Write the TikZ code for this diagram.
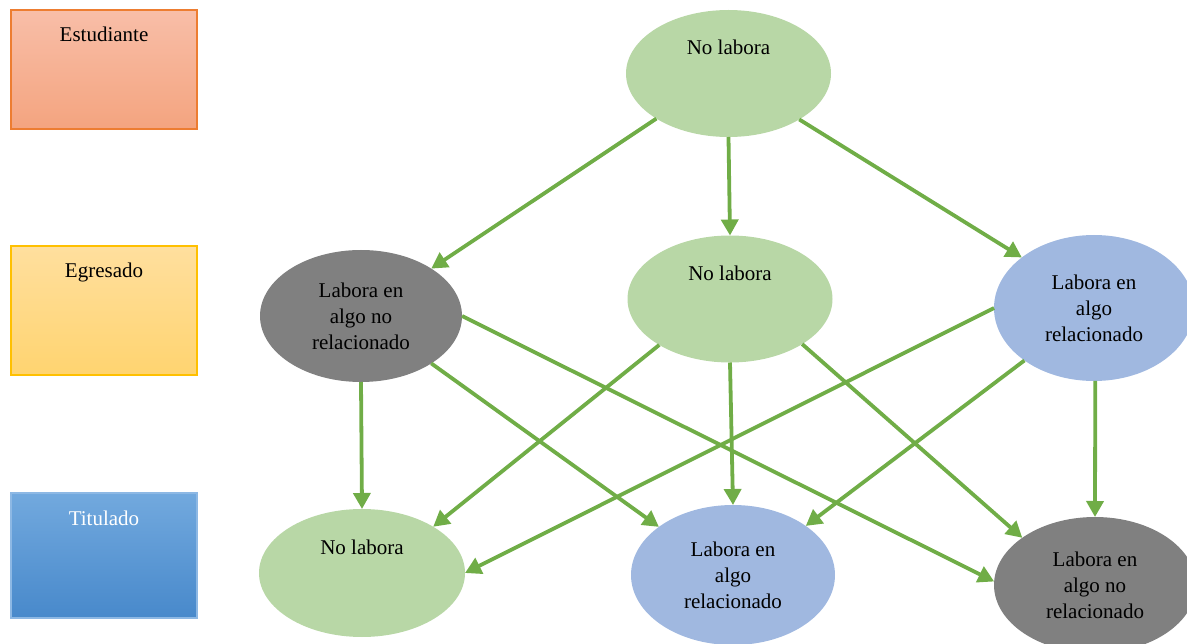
\documentclass[tikz,border=0pt]{standalone}
\usepackage{fontspec}
\setmainfont{Liberation Serif}
\usetikzlibrary{arrows.meta,shapes.geometric}
\definecolor{estTop}{HTML}{F8BEA8}
\definecolor{estBot}{HTML}{F4A47F}
\definecolor{estLine}{HTML}{ED7D31}
\definecolor{egrTop}{HTML}{FFDF9E}
\definecolor{egrBot}{HTML}{FFD470}
\definecolor{egrLine}{HTML}{FFC000}
\definecolor{titTop}{HTML}{72A9DE}
\definecolor{titBot}{HTML}{4889CB}
\definecolor{titLine}{HTML}{8DB8E4}
\definecolor{greenFill}{HTML}{B8D7A6}
\definecolor{greyFill}{HTML}{808080}
\definecolor{blueFill}{HTML}{A0B8E0}
\definecolor{arrowGreen}{HTML}{70AD47}
\begin{document}
\begin{tikzpicture}[x=1pt,y=-1pt,
  every node/.style={font=\fontsize{21}{26}\selectfont},
  levelbox/.style={rectangle, line width=1.2pt, inner sep=0pt, outer sep=0pt,
    minimum width=186pt, text height=32pt, align=center},
  oval/.style={ellipse, inner sep=0pt, outer sep=0pt, align=center,
    minimum width=205pt, minimum height=127pt},
  greenoval/.style={oval, fill=greenFill},
  greyoval/.style={oval, fill=greyFill},
  blueoval/.style={oval, fill=blueFill},
  flow/.style={line width=3.8pt, draw=arrowGreen,
    -{Triangle[length=16pt,width=17pt]}}
]
\useasboundingbox (0,0) rectangle (1187,644);
\clip (0,0) rectangle (1187,644);

% level boxes
\node[levelbox, top color=estTop, bottom color=estBot, draw=estLine,
  text depth=87pt, anchor=base] (est) at (104,42) {Estudiante};
\node[levelbox, top color=egrTop, bottom color=egrBot, draw=egrLine,
  text depth=97pt, anchor=base] (egr) at (104,278) {Egresado};
\node[levelbox, top color=titTop, bottom color=titBot, draw=titLine,
  text depth=93pt, text=white, anchor=base] (tit) at (104,525) {Titulado};

% ellipses
\node[greenoval] (T) at (728.5,73.5) {No labora\\~\\~};

\node[greyoval, minimum width=202pt, minimum height=132pt] (ML) at (361,316)
  {Labora en\\algo no\\relacionado};
\node[greenoval] (MM) at (730,299) {No labora\\~\\~};
\node[blueoval, minimum width=200pt, minimum height=146pt] (MR) at (1094,308)
  {Labora en\\algo\\relacionado};

\node[greenoval, minimum width=206pt, minimum height=128pt] (BL) at (362,573)
  {No labora\\~\\~};
\node[blueoval, minimum width=204pt, minimum height=140pt] (BM) at (733,575)
  {Labora en\\algo\\relacionado};
\node[greyoval, minimum width=202pt, minimum height=136pt] (BR) at (1095,585)
  {Labora en\\algo no\\relacionado};

% connectors
\draw[flow] (T.212) -- (ML.34);
\draw[flow] (T.270) -- (MM.90);
\draw[flow] (T.327) -- (MR.145);

\draw[flow] (ML.270) -- (BL.90);
\draw[flow] (ML.326) -- (BM.147);
\draw[flow] (ML.0) -- (BR.178);

\draw[flow] (MM.213) -- (BL.33);
\draw[flow] (MM.270) -- (BM.90);
\draw[flow] (MM.328) -- (BR.147);

\draw[flow] (MR.180) -- (BL.0);
\draw[flow] (MR.217) -- (BM.34);
\draw[flow] (MR.271) -- (BR.90);
\end{tikzpicture}
\end{document}
